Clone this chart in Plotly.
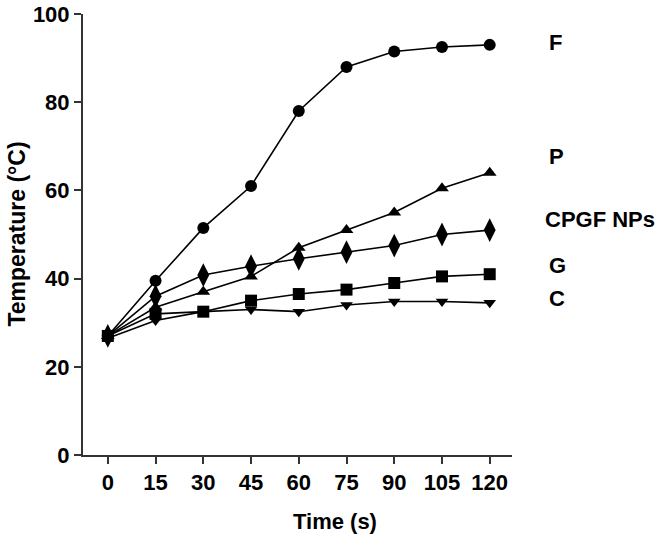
import plotly.graph_objects as go

time_s = [0, 15, 30, 45, 60, 75, 90, 105, 120]
temp_F = [27, 39.5, 51.5, 61, 78, 88, 91.5, 92.5, 93]
temp_P = [27, 33.5, 37, 40.5, 47, 51, 55, 60.5, 64]
temp_CPGF = [27, 36, 40.8, 42.8, 44.5, 46, 47.5, 50, 51]
temp_G = [27, 32, 32.5, 35, 36.5, 37.5, 39, 40.5, 41]
temp_C = [26.5, 30.5, 32.5, 33, 32.5, 34, 34.8, 34.8, 34.5]
y_ticks = [0, 20, 40, 60, 80, 100]

series_names = ["F", "P", "CPGF NPs", "G", "C"]
series_values = [temp_F, temp_P, temp_CPGF, temp_G, temp_C]
symbols = ["circle", "triangle-up", "diamond-tall", "square", "triangle-down"]
sizes = [12, 12, 17, 12, 11]
label_y = [93.6, 67.6, 53.3, 42.9, 35.4]

FONT = "Liberation Sans, Arial, sans-serif"

fig = go.Figure()
for name, vals, sym, sz in zip(series_names, series_values, symbols, sizes):
    fig.add_trace(go.Scatter(
        x=time_s, y=vals, mode="lines+markers", name=name,
        line=dict(color="black", width=1.6),
        marker=dict(symbol=sym, size=sz, color="black"),
        cliponaxis=False, showlegend=False))

font_lbl = dict(family=FONT, size=22, color="black")
for name, ly in zip(series_names, label_y):
    fig.add_annotation(x=1.082 if name != "CPGF NPs" else 1.072, xref="paper", y=ly, yref="y",
                       text="<b>%s</b>" % name, showarrow=False, xanchor="left",
                       yanchor="middle", font=font_lbl)

fig.add_annotation(x=0.587, xref="paper", y=-0.15, yref="paper", text="<b>Time (s)</b>",
                   showarrow=False, xanchor="center", yanchor="middle",
                   font=dict(family=FONT, size=22, color="black"))
fig.add_annotation(x=-0.156, xref="paper", y=0.5, yref="paper", text="<b>Temperature (°C)</b>",
                   showarrow=False, xanchor="center", yanchor="middle", textangle=-90,
                   font=dict(family=FONT, size=23, color="black"))

tick_font = dict(family=FONT, size=22, color="black")
fig.update_xaxes(range=[-7.8, 127], tickvals=time_s,
                 ticktext=["<b>%d</b>" % t for t in time_s],
                 showline=True, linecolor="#333", linewidth=2,
                 ticks="outside", ticklen=7, tickwidth=2, tickcolor="#333",
                 showgrid=False, zeroline=False, tickfont=tick_font,
                 ticklabeloverflow="allow", automargin=False)
fig.update_yaxes(range=[0, 100], tickvals=y_ticks,
                 ticktext=["<b>%d</b>" % v for v in y_ticks],
                 showline=True, linecolor="#333", linewidth=2,
                 ticks="outside", ticklen=7, tickwidth=2, tickcolor="#333",
                 showgrid=False, zeroline=False, tickfont=tick_font, automargin=False,
                 ticklabeloverflow="allow")

fig.update_layout(width=662, height=539, margin=dict(l=83, r=150, t=14, b=84),
                  plot_bgcolor="white", paper_bgcolor="white")

fig.write_html("out.html", config={"displayModeBar": False},
               post_script="document.body.style.margin='0';document.body.style.overflow='hidden';")
